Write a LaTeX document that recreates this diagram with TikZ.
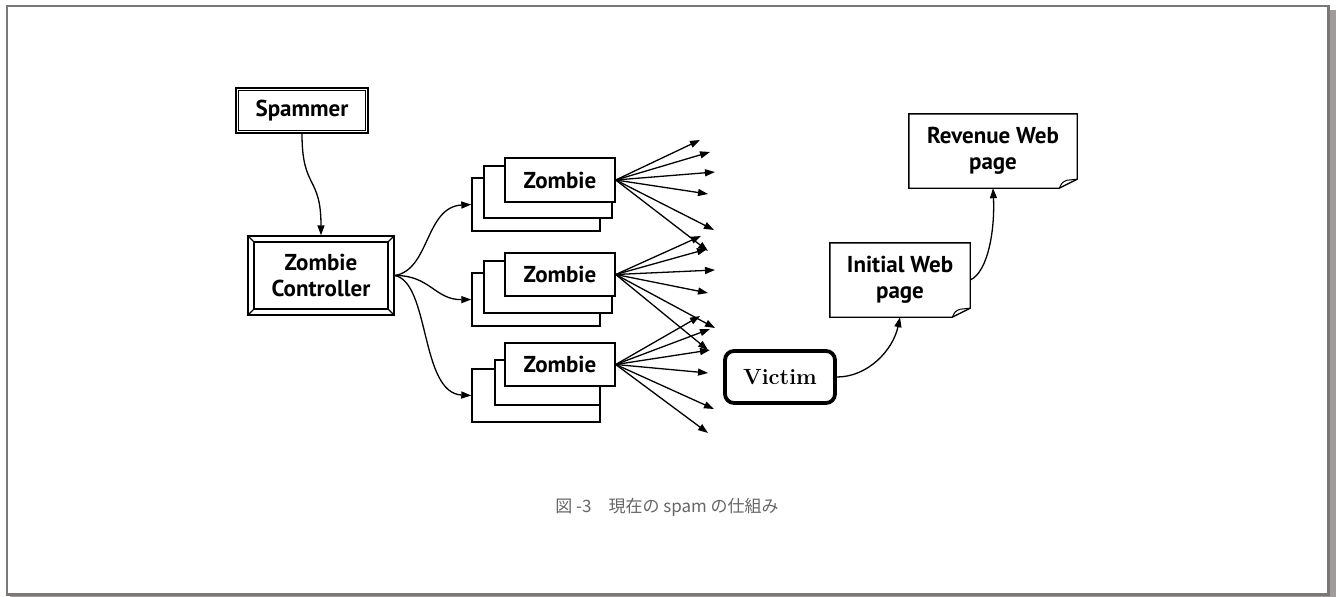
\documentclass[tikz,border=0pt]{standalone}
\usepackage{fontspec}
\newfontfamily\lab{PT Sans}
\newfontfamily\cjk{Noto Sans CJK JP}
\usetikzlibrary{arrows.meta}
\definecolor{framegray}{HTML}{7A7777}
\definecolor{shadowgray}{HTML}{A09C9C}
\definecolor{capgray}{HTML}{666666}
\begin{document}
\begin{tikzpicture}[x=1pt,y=-1pt,
  box/.style={draw,line width=1.4pt,fill=white,inner sep=0pt},
  lbl/.style={font=\lab\bfseries\fontsize{23}{26}\selectfont,align=center,inner sep=0pt},
  arr/.style={line width=1.3pt,-{Triangle[length=10pt,width=7pt]}},
  fan/.style={line width=1.3pt,-{Triangle[length=10pt,width=7pt]}},
  docline/.style={line width=1.4pt},
  fold/.style={line width=1pt}]

\useasboundingbox (0,0) rectangle (1336,597);
\fill[white] (0,0) rectangle (1336,597);
\fill[shadowgray] (1330,10) rectangle (1336,597);
\fill[shadowgray] (10,595) rectangle (1336,597);
\draw[framegray,line width=2.5pt] (7,6) rectangle (1328.5,594.3);

% Spammer
\node[box,lbl,line width=2pt,minimum width=132pt,minimum height=45pt] (spam) at (302,110.5) {Spammer};
\draw[line width=1.2pt] ([shift={(3.8,3.8)}]spam.north west) rectangle ([shift={(-3.8,-3.8)}]spam.south east);

% Zombie Controller
\node[box,lbl,line width=1.3pt,minimum width=146pt,minimum height=79pt] (ctrl) at (321,275.5) {Zombie\\Controller};
\draw[line width=2.2pt] ([shift={(7,7)}]ctrl.north west) rectangle ([shift={(-7,-7)}]ctrl.south east);
\draw[line width=1.2pt] (ctrl.north west) -- ++(7,7);
\draw[line width=1.2pt] (ctrl.north east) -- ++(-7,7);
\draw[line width=1.2pt] (ctrl.south west) -- ++(7,-7);
\draw[line width=1.2pt] (ctrl.south east) -- ++(-7,-7);

% Zombie stacks
\node[box,minimum width=128pt,minimum height=53pt] (z1c) at (536,204.5) {};
\node[box,minimum width=128pt,minimum height=52pt] (z1b) at (548,192) {};
\node[box,lbl,minimum width=110pt,minimum height=44pt] (z1a) at (560,180) {Zombie};

\node[box,minimum width=128pt,minimum height=53pt] (z2c) at (536,299.5) {};
\node[box,minimum width=128pt,minimum height=52pt] (z2b) at (548,287) {};
\node[box,lbl,minimum width=110pt,minimum height=43pt] (z2a) at (560,274.5) {Zombie};

\node[box,minimum width=128pt,minimum height=53pt] (z3c) at (536,395.5) {};
\node[box,minimum width=105pt,minimum height=45pt] (z3b) at (547.5,382.5) {};
\node[box,lbl,minimum width=110pt,minimum height=43pt] (z3a) at (560,364.5) {Zombie};

% fan-out targets
\coordinate (ta1) at (700,140);
\coordinate (ta2) at (710,152);
\coordinate (ta3) at (715,172);
\coordinate (ta4) at (708,194);
\coordinate (ta5) at (714,230);
\coordinate (ta6) at (708,251);
\coordinate (tb1) at (701,236);
\coordinate (tb2) at (707,249);
\coordinate (tb3) at (715,270);
\coordinate (tb4) at (708,293);
\coordinate (tb5) at (715,328);
\coordinate (tb6) at (708,350);
\coordinate (tc1) at (700,316);
\coordinate (tc2) at (710,329);
\coordinate (tc3) at (710,350);
\coordinate (tc4) at (708,373);
\coordinate (tc5) at (714,409);
\coordinate (tc6) at (708,433);
\draw[fan] (z1a.east) -- (ta1);
\draw[fan] (z1a.east) -- (ta2);
\draw[fan] (z1a.east) -- (ta3);
\draw[fan] (z1a.east) -- (ta4);
\draw[fan] (z1a.east) -- (ta5);
\draw[fan] (z1a.east) -- (ta6);
\draw[fan] (z2a.east) -- (tb1);
\draw[fan] (z2a.east) -- (tb2);
\draw[fan] (z2a.east) -- (tb3);
\draw[fan] (z2a.east) -- (tb4);
\draw[fan] (z2a.east) -- (tb5);
\draw[fan] (z2a.east) -- (tb6);
\draw[fan] (z3a.east) -- (tc1);
\draw[fan] (z3a.east) -- (tc2);
\draw[fan] (z3a.east) -- (tc3);
\draw[fan] (z3a.east) -- (tc4);
\draw[fan] (z3a.east) -- (tc5);
\draw[fan] (z3a.east) -- (tc6);

% Victim
\node[draw,line width=3.8pt,rounded corners=9pt,minimum width=110pt,minimum height=52pt,
      font=\bfseries\fontsize{22}{26}\selectfont] (victim) at (780,377) {Victim};

% Initial Web page
\node[lbl,minimum width=140pt,minimum height=74pt] (init) at (900,280) {Initial Web\\page};
\draw[docline] (init.north west) -- (init.north east) -- ([yshift=9pt]init.south east)
  -- ([xshift=-18pt]init.south east) -- (init.south west) -- cycle;
\draw[fold] ([xshift=-18pt]init.south east) .. controls ([xshift=-15pt,yshift=6pt]init.south east)
  .. ([xshift=-10pt,yshift=8pt]init.south east) -- ([yshift=9pt]init.south east);

% Revenue Web page
\node[lbl,minimum width=168pt,minimum height=74pt] (rev) at (993,151) {Revenue Web\\page};
\draw[docline] (rev.north west) -- (rev.north east) -- ([yshift=9pt]rev.south east)
  -- ([xshift=-18pt]rev.south east) -- (rev.south west) -- cycle;
\draw[fold] ([xshift=-18pt]rev.south east) .. controls ([xshift=-15pt,yshift=6pt]rev.south east)
  .. ([xshift=-10pt,yshift=8pt]rev.south east) -- ([yshift=9pt]rev.south east);

% connectors
\draw[arr] (spam.south) .. controls (302,190) and (321,175) .. (ctrl.north);
\draw[arr] (ctrl.east) .. controls (430,270) and (425,207) .. (z1c.west);
\draw[arr] (ctrl.east) .. controls (430,275) and (435,300) .. (z2c.west);
\draw[arr] (ctrl.east) .. controls (430,282) and (420,393) .. (z3c.west);
\draw[arr] (victim.east) .. controls (868,377) and (893,350) .. (init.south);
\draw[arr] (init.east) .. controls (988,272) and (995,230) .. (rev.south);

% caption
\node[font=\cjk\fontsize{17}{20}\selectfont,text=capgray] (cap) at (667,507) {図 -3　現在の spam の仕組み};
\end{tikzpicture}
\end{document}
